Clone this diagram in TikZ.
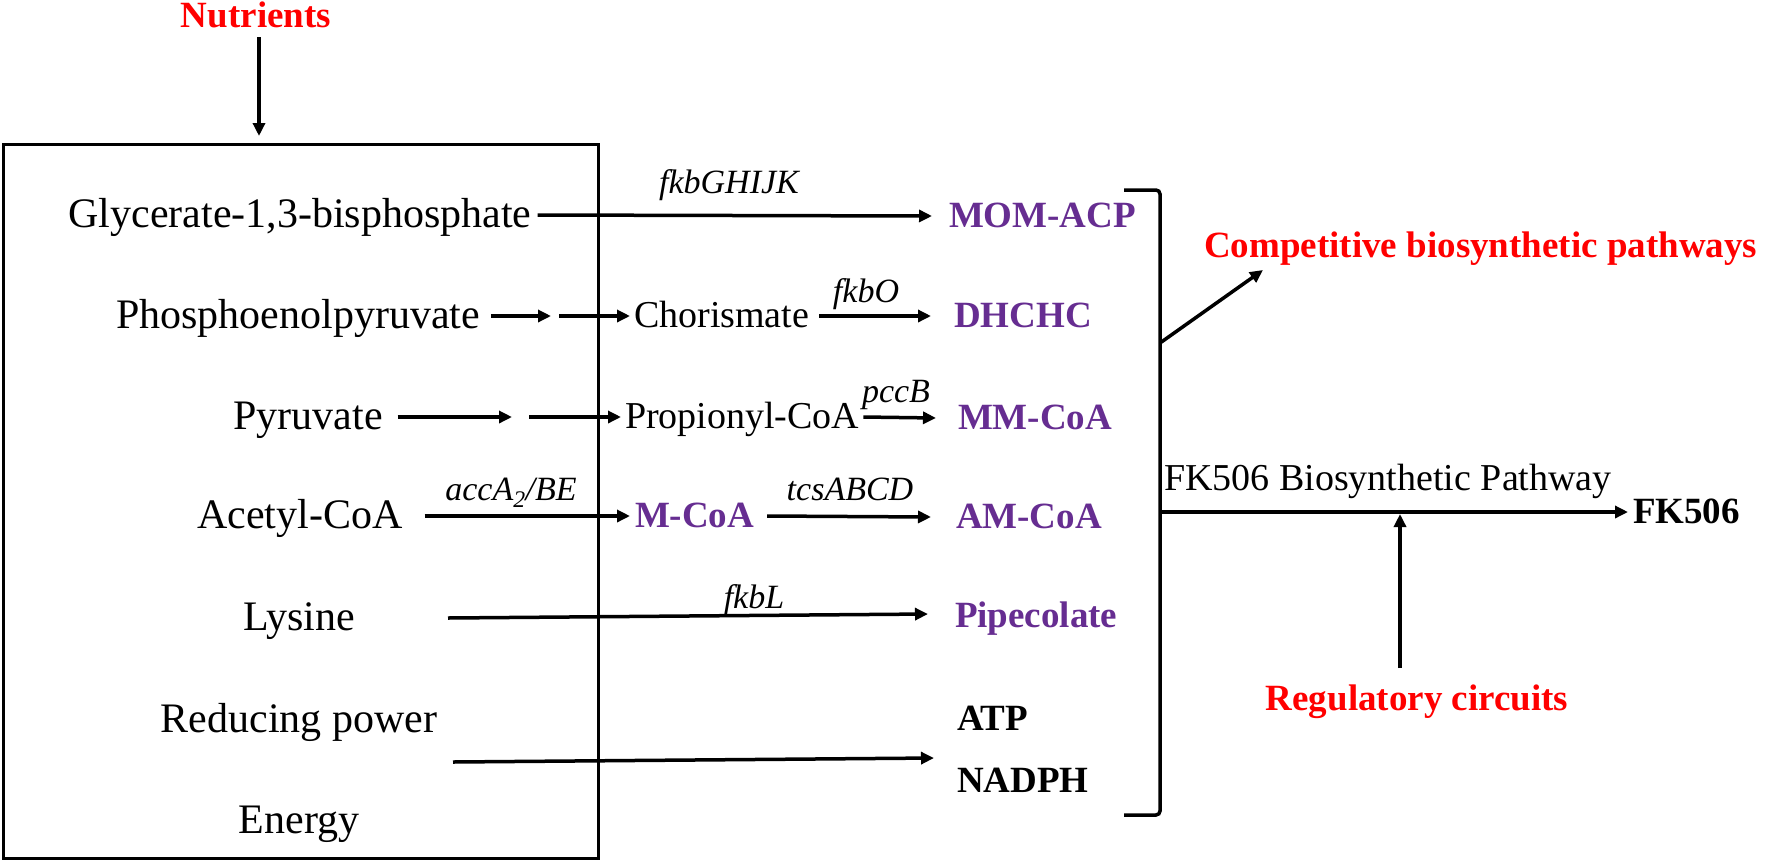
\documentclass[tikz,border=0pt]{standalone}
\usepackage{fontspec}
\setmainfont{Liberation Serif}
\usetikzlibrary{arrows.meta}
\definecolor{pur}{RGB}{102,45,145}
\definecolor{redt}{RGB}{255,0,0}
\newcommand{\fsL}{\fontsize{42pt}{48pt}\selectfont}
\newcommand{\fsM}{\fontsize{38pt}{44pt}\selectfont}
\newcommand{\fsB}{\fontsize{37pt}{43pt}\selectfont\bfseries}
\newcommand{\fsG}{\fontsize{34pt}{40pt}\selectfont\itshape}
\begin{document}
\begin{tikzpicture}[x=1pt,y=-1pt,
  lbl/.style={inner sep=0pt, outer sep=0pt, font=\fsL, text height=32pt, text depth=8pt},
  midl/.style={inner sep=0pt, outer sep=0pt, font=\fsM, text height=29pt, text depth=7pt, anchor=west},
  prod/.style={inner sep=0pt, outer sep=0pt, font=\fsB, text=pur, text height=29pt, text depth=7pt, anchor=west},
  blk/.style={inner sep=0pt, outer sep=0pt, font=\fsB, text height=29pt, text depth=7pt, anchor=west},
  gene/.style={inner sep=0pt, font=\fsG, anchor=base},
  hl/.style={inner sep=0pt, font=\fsB, text=redt},
  arr/.style={line width=3.5pt, -{Triangle[length=13pt,width=12pt]}},
  boxline/.style={draw, line width=2.5pt},
  brk/.style={line width=3.5pt, rounded corners=4pt}
]
\useasboundingbox (0,0) rectangle (1769,860);
\fill[white] (0,0) rectangle (1769,860);

% outer box
\node[boxline, anchor=north west, minimum width=595pt, minimum height=714pt, inner sep=0pt] (box) at (2,143) {};

% nutrients
\node[hl, anchor=base] (nut) at (256,27) {Nutrients};
\coordinate (nutS) at (259,37);
\coordinate (nutE) at (259,136);
\draw[arr] (nutS) -- (nutE);

% left column
\node[lbl] (gly) at (300,215) {Glycerate-1,3-bisphosphate};
\node[lbl] (pep) at (298,316) {Phosphoenolpyruvate};
\node[lbl] (pyr) at (308,417) {Pyruvate};
\node[lbl] (ace) at (300,516) {Acetyl-CoA};
\node[lbl] (lys) at (299,618) {Lysine};
\node[lbl] (red) at (299,720) {Reducing power};
\node[lbl] (ene) at (299,821) {Energy};

% middle
\node[midl] (chor) at (634,316) {Chorismate};
\node[midl] (prop) at (625,417) {Propionyl-CoA};
\node[prod] (mcoa) at (635,516) {M-CoA};

% products
\node[prod] (mom) at (949,216) {MOM-ACP};
\node[prod] (dhc) at (954,316) {DHCHC};
\node[prod] (mmc) at (958,418) {MM-CoA};
\node[prod] (amc) at (956,517) {AM-CoA};
\node[prod] (pip) at (955,616) {Pipecolate};
\node[blk] (atp) at (957,719) {ATP};
\node[blk] (nad) at (957,781) {NADPH};

% gene labels
\node[gene] (g1) at (729,193) {fkbGHIJK};
\node[gene] (g2) at (866,302) {fkbO};
\node[gene] (g3) at (896,402) {pccB};
\node[gene] (g4) at (511,500) {accA\textsubscript{2}/BE};
\node[gene] (g5) at (850,500) {tcsABCD};
\node[gene] (g6) at (754,608) {fkbL};

% row arrows
\draw[arr] ([xshift=6pt]gly.east) -- ([xshift=-17pt]mom.west);
\coordinate (pepM) at (555,316);
\draw[arr] ([xshift=11pt]pep.east) -- ([xshift=-4pt]pepM);
\draw[arr] ([xshift=4pt]pepM) -- ([xshift=-4pt]chor.west);
\draw[arr] ([xshift=10pt]chor.east) -- ([xshift=-23pt]dhc.west);
\coordinate (pyrM) at (520,417);
\draw[arr] ([xshift=15pt]pyr.east) -- ([xshift=-8pt]pyrM);
\draw[arr] ([xshift=9pt]pyrM) -- ([xshift=-4pt]prop.west);
\draw[arr] ([xshift=4pt]prop.east) -- ([xshift=-22pt]mmc.west);
\draw[arr] ([xshift=22pt]ace.east) -- ([xshift=-5pt]mcoa.west);
\draw[arr] ([xshift=13pt]mcoa.east) -- ([xshift=-25pt]amc.west);
\coordinate (lysS) at (448,618);
\coordinate (lysE) at (928,614);
\draw[arr] (lysS) -- (lysE);
\coordinate (eneS) at (453,762);
\coordinate (eneE) at (934,758);
\draw[arr] (eneS) -- (eneE);

% bracket
\coordinate (bT) at (1124,190);
\coordinate (bB) at (1124,815);
\draw[brk] (bT) -- (1160,190) -- (1160,815) -- (bB);

% competitive
\node[hl, anchor=base west] (comp) at (1204,257) {Competitive biosynthetic pathways};
\coordinate (cS) at (1160,343);
\coordinate (cE) at (1263,270);
\draw[arr] (cS) -- (cE);

% FK506
\node[inner sep=0pt, font=\fsM, anchor=base west] (fkp) at (1164,490) {FK506 Biosynthetic Pathway};
\node[blk, anchor=base west] (fk) at (1633,523) {FK506};
\coordinate (fS) at (1160,512);
\draw[arr] (fS) -- ([xshift=-5pt]fk.west |- fS);

% regulatory
\node[hl, anchor=base] (reg) at (1417,710) {Regulatory circuits};
\coordinate (rS) at (1400,668);
\coordinate (rE) at (1400,514);
\draw[arr] (rS) -- (rE);
\end{tikzpicture}
\end{document}
